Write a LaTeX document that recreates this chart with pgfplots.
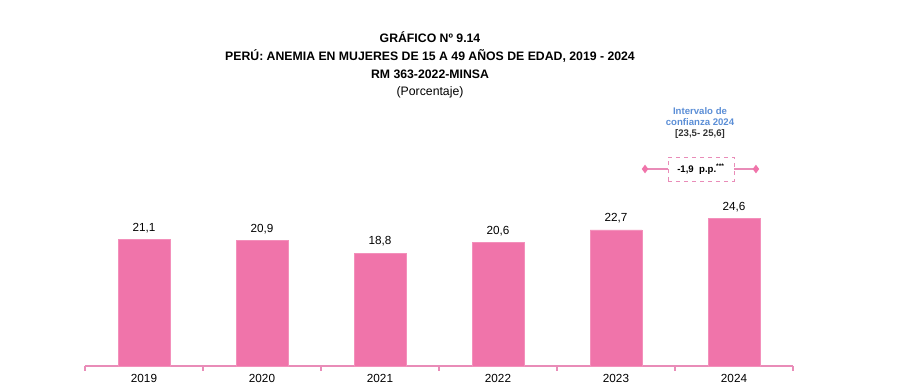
\documentclass[border=0pt]{standalone}
\usepackage{fontspec}
\setmainfont{Liberation Sans}
\usepackage{pgfplots}
\pgfplotsset{compat=1.18}
\definecolor{barpink}{HTML}{F074AA}
\definecolor{axpink}{HTML}{E98CB8}
\definecolor{annblue}{HTML}{5B8ED6}
\definecolor{txtdark}{HTML}{333333}
\begin{document}
\begin{tikzpicture}[x=0.75pt,y=0.75pt]
\begin{axis}[
  scale only axis, width=531pt, height=270pt,
  xmin=-0.5, xmax=5.5, ymin=0, ymax=60,
  axis x line=bottom, axis y line=none,
  axis line style={axpink, line width=0.9pt, -},
  xtick={0,1,2,3,4,5},
  xticklabels={2019,2020,2021,2022,2023,2024},
  major tick length=0pt,
  extra x ticks={-0.5,0.5,1.5,2.5,3.5,4.5,5.5},
  extra x tick labels={},
  extra x tick style={tick align=outside, major tick length=3.5pt, tick style={axpink, line width=0.9pt}},
  xticklabel style={font=\fontsize{8.8}{10}\selectfont, yshift=-3pt},
  clip=false,
  nodes near coords,
  nodes near coords style={font=\fontsize{8.8}{10}\selectfont, yshift=1.5pt},
  /pgf/number format/.cd, fixed, fixed zerofill, precision=1, use comma, assume math mode=true,
]
\addplot[ybar, bar width=0.44, fill=barpink, draw=barpink!80!white] coordinates {
 (0,21.1) (1,20.9) (2,18.8) (3,20.6) (4,22.7) (5,24.6)};
\coordinate (O) at (axis cs:-0.5,0);
% title
\node[font=\fontsize{9.2}{11}\selectfont\bfseries] at (axis cs:2.424,54.83) {GRÁFICO Nº 9.14};
\node[font=\fontsize{9.2}{11}\selectfont\bfseries] at (axis cs:2.424,51.67) {PERÚ: ANEMIA EN MUJERES DE 15 A 49 AÑOS DE EDAD, 2019 - 2024};
\node[font=\fontsize{9.2}{11}\selectfont\bfseries] at (axis cs:2.424,48.67) {RM 363-2022-MINSA};
\node[font=\fontsize{9.2}{11}\selectfont] at (axis cs:2.424,45.67) {(Porcentaje)};
% annotation
\node[font=\fontsize{7.2}{8}\selectfont\bfseries, text=annblue] at (axis cs:4.712,42.5) {Intervalo de};
\node[font=\fontsize{7.2}{8}\selectfont\bfseries, text=annblue] at (axis cs:4.712,40.67) {confianza 2024};
\node[font=\fontsize{7.2}{8}\selectfont\bfseries, text=txtdark] at (axis cs:4.712,38.67) {[23,5- 25,6]};
\addplot[axpink, line width=0.9pt, mark=diamond*, mark size=2.5pt, mark options={fill=barpink, draw=barpink}, mark indices={1}, nodes near coords={}] coordinates {(4.246,32.83) (4.441,32.83)};
\addplot[axpink, line width=0.9pt, mark=diamond*, mark size=2.5pt, mark options={fill=barpink, draw=barpink}, mark indices={2}, nodes near coords={}] coordinates {(5.0,32.83) (5.186,32.83)};
\draw[axpink, dashed, line width=0.7pt] (axis cs:4.441,30.83) rectangle (axis cs:5.0,34.83);
\node[font=\fontsize{7.2}{8}\selectfont\bfseries] at (axis cs:4.7205,32.83) {-1,9\ \ p.p.\textsuperscript{***}};
\end{axis}
\pgfresetboundingbox
\path[use as bounding box] ([shift={(-85,-24)}]O) rectangle ([shift={(814,366)}]O);
\end{tikzpicture}
\end{document}
